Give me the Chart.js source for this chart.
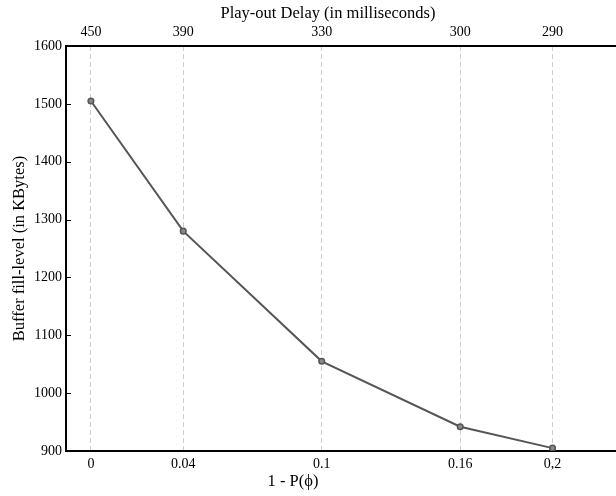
<!DOCTYPE html>
<html>
<head>
<meta charset="utf-8">
<script src="https://cdn.jsdelivr.net/npm/chart.js@4"></script>
<style>
  body { margin: 0; background: #fff; }
  #wrap { width: 616px; height: 496px; }
</style>
</head>
<body>
<div id="wrap"><canvas id="bufferChart" width="616" height="496"></canvas></div>
<script>
// Data
const lossValues = [0, 0.04, 0.1, 0.16, 0.2];
const lossLabels = ['0', '0.04', '0.1', '0.16', '0,2'];
const delayLabels = ['450', '390', '330', '300', '290'];
const bufferLevels = [1505, 1280, 1055, 942, 905];

const FONT = '"Liberation Serif", "Times New Roman", serif';

// Inward tick marks on the y axis + the two x axis titles
const extrasPlugin = {
    id: 'extras',
    afterDraw(chart) {
        const ctx = chart.ctx;
        const yScale = chart.scales.y;
        const area = chart.chartArea;
        ctx.save();
        ctx.strokeStyle = '#000';
        ctx.lineWidth = 1;
        yScale.ticks.forEach(t => {
            const py = Math.round(yScale.getPixelForValue(t.value)) + 0.5;
            ctx.beginPath();
            ctx.moveTo(area.left, py);
            ctx.lineTo(area.left + 5, py);
            ctx.stroke();
        });
        ctx.fillStyle = '#000';
        ctx.textAlign = 'center';
        ctx.textBaseline = 'middle';
        ctx.font = '16.5px ' + FONT;
        ctx.fillText('Play-out Delay (in milliseconds)', 328, 14);
        ctx.fillText('1 - P(\u03D5)', 293, 482);
        ctx.restore();
    }
};

// no extra room for edge labels, plot runs to the canvas edge
function fitX(height) {
    return scale => {
        scale.height = height;
        scale.paddingLeft = 0;
        scale.paddingRight = 0;
    };
}

const ctx = document.getElementById('bufferChart').getContext('2d');

new Chart(ctx, {
    type: 'line',
    data: {
        datasets: [{
            data: lossValues.map((x, i) => ({ x: x, y: bufferLevels[i] })),
            borderColor: '#555555',
            borderWidth: 2,
            tension: 0,
            fill: false,
            pointRadius: 2.8,
            pointBackgroundColor: '#8a8a8a',
            pointBorderColor: '#555555',
            pointBorderWidth: 1.5
        }]
    },
    options: {
        responsive: false,
        animation: false,
        layout: { padding: 0, autoPadding: false },
        plugins: {
            legend: { display: false },
            tooltip: { enabled: false }
        },
        scales: {
            x: {
                type: 'linear',
                position: 'bottom',
                min: -0.0108,
                max: 0.2275,
                afterBuildTicks: axis => {
                    axis.ticks = lossValues.map(v => ({ value: v }));
                },
                afterFit: fitX(45),
                ticks: {
                    callback: (value, index) => lossLabels[index],
                    color: '#000',
                    font: { family: FONT, size: 14 },
                    padding: 5,
                    maxRotation: 0
                },
                grid: {
                    color: '#cfcbc7',
                    lineWidth: 1,
                    drawTicks: false
                },
                border: { color: '#000', width: 2, dash: [5, 3] }
            },
            x2: {
                type: 'linear',
                position: 'top',
                min: -0.0108,
                max: 0.2275,
                afterBuildTicks: axis => {
                    axis.ticks = lossValues.map(v => ({ value: v }));
                },
                afterFit: fitX(46),
                ticks: {
                    callback: (value, index) => delayLabels[index],
                    color: '#000',
                    font: { family: FONT, size: 14 },
                    padding: 5,
                    maxRotation: 0
                },
                grid: { display: false, drawTicks: false },
                border: { color: '#000', width: 2 }
            },
            y: {
                min: 900,
                max: 1600,
                afterFit: scale => {
                    scale.width = 66;
                    scale.paddingTop = 0;
                    scale.paddingBottom = 0;
                },
                ticks: {
                    stepSize: 100,
                    callback: value => String(value),
                    color: '#000',
                    font: { family: FONT, size: 14 },
                    padding: 4
                },
                grid: { display: false, drawTicks: false },
                border: { color: '#000', width: 2 },
                title: {
                    display: true,
                    text: 'Buffer fill-level (in KBytes)',
                    color: '#000',
                    font: { family: FONT, size: 16.5 },
                    padding: { top: 10, bottom: 0 }
                }
            }
        }
    },
    plugins: [extrasPlugin]
});
</script>
</body>
</html>
